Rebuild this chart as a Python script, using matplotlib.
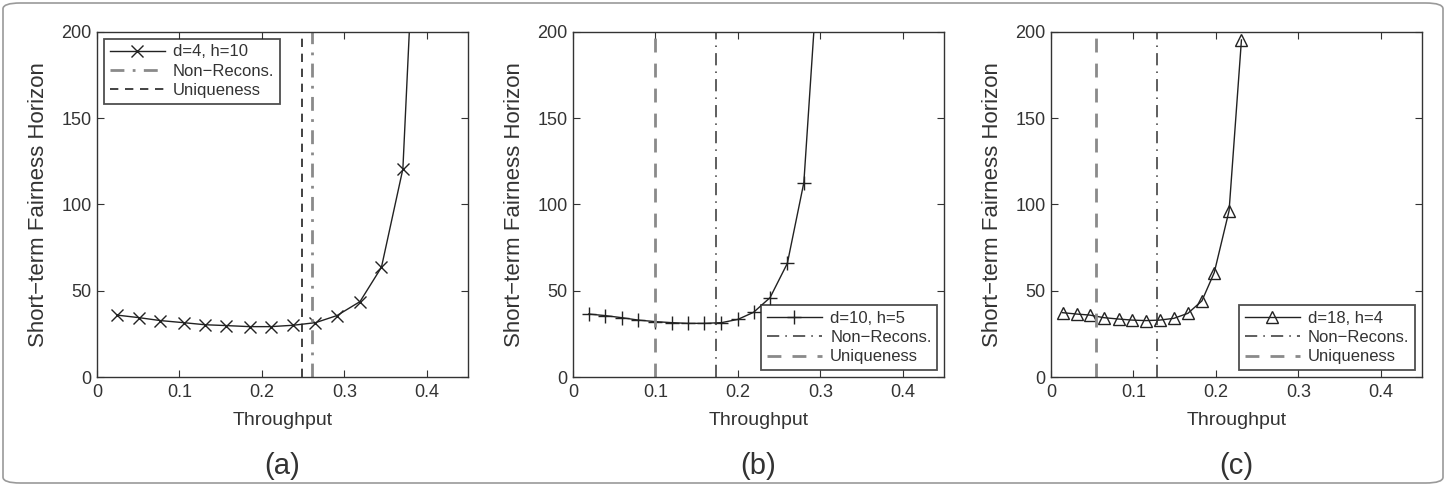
import matplotlib
matplotlib.use("Agg")
import matplotlib.pyplot as plt
from matplotlib.patches import FancyBboxPatch

plt.rcParams['font.family'] = ['Liberation Sans', 'DejaVu Sans']

# ---- data ----
xa = [0.024, 0.051, 0.077, 0.105, 0.131, 0.157, 0.185, 0.211, 0.238, 0.265, 0.291, 0.319, 0.345, 0.371, 0.397]
ya = [35.9, 34.4, 32.7, 31.5, 30.3, 29.8, 29.2, 29.2, 30.0, 31.5, 35.6, 43.7, 63.6, 120.6, 385.0]

xb = [0.019, 0.039, 0.059, 0.079, 0.100, 0.120, 0.139, 0.159, 0.180, 0.200, 0.219, 0.239, 0.260, 0.280, 0.300]
yb = [36.5, 35.6, 34.4, 33.0, 32.1, 31.5, 31.1, 31.1, 31.5, 33.4, 37.5, 46.0, 65.9, 112.7, 257.0]

xc = [0.014, 0.031, 0.047, 0.064, 0.082, 0.098, 0.115, 0.132, 0.149, 0.166, 0.183, 0.198, 0.216, 0.231]
yc = [37.3, 36.5, 35.9, 34.4, 33.6, 33.0, 32.7, 33.0, 34.0, 36.9, 44.1, 60.5, 96.4, 195.4]

labels = ['d=4, h=10', 'd=10, h=5', 'd=18, h=4']
nonrecons = [0.261, 0.173, 0.128]
uniqueness = [0.249, 0.100, 0.054]
panel_names = ['(a)', '(b)', '(c)']
xticks = [0, 0.1, 0.2, 0.3, 0.4]
xticklabels = ['0', '0.1', '0.2', '0.3', '0.4']
yticks = [0, 50, 100, 150, 200]

series = [(xa, ya, 'x', 8), (xb, yb, '+', 10), (xc, yc, '^', 9)]

W, H = 1446, 486
fig = plt.figure(figsize=(W / 100, H / 100), dpi=100)

# outer rounded border
border = FancyBboxPatch((3 / W, 3 / H), 1 - 6 / W, 1 - 6 / H,
                        boxstyle="round,pad=0,rounding_size=0.012",
                        transform=fig.transFigure, fill=False,
                        edgecolor='#9a9a9a', linewidth=1.2)
fig.patches.append(border)

lefts = [97, 573, 1051]
txtc = '#333333'
for i in range(3):
    l = lefts[i]
    ax = fig.add_axes([l / W, 1 - 377 / H, 371 / W, 345 / H])
    x, y, m, ms = series[i]
    mfc = 'none' if m == '^' else '#222222'
    ax.plot(x, y, color='#222222', lw=1.0, marker=m, ms=ms, mfc=mfc,
            mec='#222222', mew=1.0, label=labels[i])
    if i == 0:
        ax.axvline(nonrecons[i], color='#8a8a8a', lw=2.0, ls=(0, (5, 3, 1, 3)),
                   label='Non\u2212Recons.')
        ax.axvline(uniqueness[i], color='#222222', lw=1.2, ls=(0, (5, 4)),
                   label='Uniqueness')
    else:
        ax.axvline(nonrecons[i], color='#333333', lw=1.1, ls=(0, (8, 4, 1, 4)),
                   label='Non\u2212Recons.')
        ax.axvline(uniqueness[i], color='#8a8a8a', lw=2.0, ls=(0, (5, 4)),
                   label='Uniqueness')
    ax.set_xlim(0, 0.45)
    ax.set_ylim(0, 200)
    ax.set_xticks(xticks)
    ax.set_xticklabels(xticklabels)
    ax.set_yticks(yticks)
    ax.tick_params(direction='in', top=True, right=True, length=5,
                   labelsize=13, colors='#333333', labelcolor=txtc)
    ax.tick_params(axis='x', pad=5)
    ax.tick_params(axis='y', pad=4)
    for s in ax.spines.values():
        s.set_color('#333333')
        s.set_linewidth(1.0)
    ax.set_xlabel('Throughput', fontsize=14, color=txtc)
    ax.xaxis.set_label_coords(0.5, -(412 - 377) / 345)
    ax.set_ylabel('Short\u2212term Fairness Horizon', fontsize=16, color=txtc)
    ax.yaxis.set_label_coords(-(97 - 49) / 371, 0.5)
    ax.text(0.5, -(466 - 377) / 345, panel_names[i], transform=ax.transAxes, ha='center',
            va='center', fontsize=21, color=txtc)
    loc = 'upper left' if i == 0 else 'lower right'
    leg = ax.legend(loc=loc, fontsize=12, frameon=True, fancybox=False,
                    handlelength=3.3, borderaxespad=0.4, labelspacing=0.25,
                    handletextpad=0.5, borderpad=0.35)
    leg.get_frame().set_edgecolor('#222222')
    leg.get_frame().set_linewidth(1.3)
    for t in leg.get_texts():
        t.set_color('#333333')

fig.savefig('out.png', dpi=100)
